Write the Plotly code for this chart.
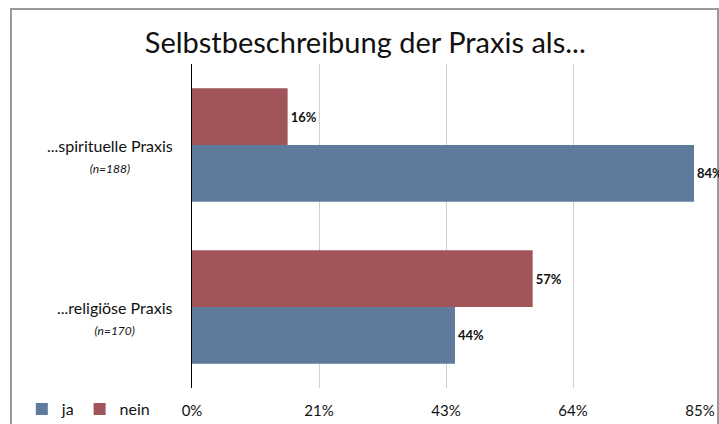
import plotly.graph_objects as go

categories = ["...religiöse Praxis", "...spirituelle Praxis"]
n_labels = ["(n=170)", "(n=188)"]
ja_values = [44, 84]
nein_values = [57, 16]
ja_text = ["44%", "84%"]
nein_text = ["57%", "16%"]
tick_vals = [0, 21.25, 42.5, 63.75, 85]
tick_text = ["0%", "21%", "43%", "64%", "85%"]

FONT = "Lato, 'Open Sans', sans-serif"
BLUE = "#5e7b9c"
RED = "#a1545a"

fig = go.Figure()
fig.add_trace(go.Bar(
    y=categories, x=ja_values, name="ja", orientation="h",
    marker=dict(color=BLUE, line=dict(width=0)),
    text=ja_text, textposition="outside", cliponaxis=False,
    textfont=dict(family=FONT, size=13, color="#111", weight="bold"),
))
fig.add_trace(go.Bar(
    y=categories, x=nein_values, name="nein", orientation="h",
    marker=dict(color=RED, line=dict(width=0)),
    text=nein_text, textposition="outside", cliponaxis=False,
    textfont=dict(family=FONT, size=13, color="#111", weight="bold"),
))

for cat, n in zip(categories, n_labels):
    fig.add_annotation(
        x=-0.033, xref="paper", y=cat, yref="y",
        xanchor="right", yanchor="top", yshift=11, align="center",
        text=f"{cat}<br><i><span style='font-size:12px'>{n}</span></i>",
        showarrow=False, font=dict(family=FONT, size=16, color="#111"),
    )

# outer frame
fig.add_shape(type="rect", xref="paper", yref="paper",
              x0=-0.3563, x1=1.0354, y0=-0.3, y1=1.1698,
              line=dict(color="#9a9a9a", width=2), fillcolor="rgba(0,0,0,0)",
              layer="below")

fig.update_layout(
    width=719, height=424,
    margin=dict(l=192, r=19, t=64, b=36, autoexpand=False),
    paper_bgcolor="white", plot_bgcolor="white",
    barmode="group", bargap=0.3, bargroupgap=0,
    title=dict(text="Selbstbeschreibung der Praxis als...", x=0.508, xanchor="center",
               y=0.9, yref="container", yanchor="middle",
               font=dict(family=FONT, size=29, color="#111")),
    font=dict(family=FONT, size=14, color="#111"),
    showlegend=True,
    legend=dict(orientation="h", x=-0.335, xanchor="left", y=-0.065, yanchor="middle",
                font=dict(family=FONT, size=16, color="#111"),
                bgcolor="rgba(0,0,0,0)"),
    xaxis=dict(range=[0, 85], tickvals=tick_vals, ticktext=tick_text,
               showgrid=True, gridcolor="#d0d0d0", gridwidth=1,
               zeroline=False, showline=False, ticks="", automargin=False,
               ticklabelstandoff=12,
               tickfont=dict(family=FONT, size=15, color="#111")),
    yaxis=dict(categoryorder="array", categoryarray=categories, automargin=False,
               showticklabels=False, showgrid=False, zeroline=False,
               showline=True, linecolor="black", linewidth=1, ticks=""),
)

fig.write_html("out.html", config={"displayModeBar": False},
               post_script="document.body.style.margin='0';")
